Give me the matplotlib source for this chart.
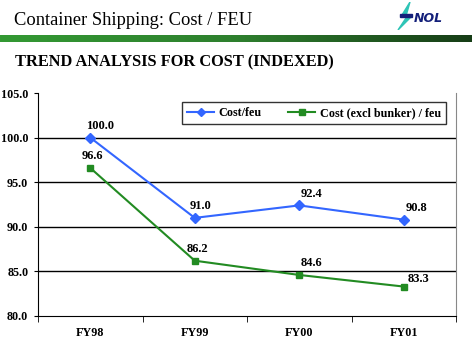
import numpy as np
import matplotlib.pyplot as plt
from matplotlib.patches import Polygon, Rectangle

years = ['FY98', 'FY99', 'FY00', 'FY01']
cost_feu = [100.0, 91.0, 92.4, 90.8]
cost_excl_bunker = [96.6, 86.2, 84.6, 83.3]

plt.rcParams['font.family'] = 'Liberation Serif'

fig = plt.figure(figsize=(4.72, 3.45), dpi=100)

# header
fig.text(0.03, 0.942, 'Container Shipping: Cost / FEU', fontsize=13.3, va='center', ha='left')
fig.text(0.032, 0.82, 'TREND ANALYSIS FOR COST (INDEXED)', fontsize=11.8, fontweight='bold',
         va='center', ha='left')

# green band under the title
band = fig.add_axes([0, 1 - 42.5 / 345, 1, 7.5 / 345])
grad = np.linspace(0, 1, 256)
cols = np.array([[0.20, 0.60, 0.20], [0.18, 0.50, 0.18], [0.09, 0.24, 0.09]])
rgb = np.array([np.interp(grad, [0, 0.5, 1], cols[:, i]) for i in range(3)]).T
band.imshow(rgb[np.newaxis, :, :], aspect='auto')
band.axis('off')

# small logo
logo = fig.add_axes([390 / 472, 1 - 30 / 345, 80 / 472, 28 / 345])
logo.set_xlim(0, 80)
logo.set_ylim(0, 28)
logo.axis('off')
logo.add_patch(Polygon([[20, 28], [12, 15], [18, 15], [8, 0], [22, 14], [16, 14]],
                       closed=True, color='#2ec4b6'))
logo.add_patch(Rectangle((10, 13), 12, 3, color='#14207a'))
logo.text(24, 12, 'NOL', fontsize=9, fontweight='bold', fontstyle='italic',
          color='#14207a', va='center', family='DejaVu Sans')

ax = fig.add_axes([38 / 472, 1 - 316 / 345, (456 - 38) / 472, (316 - 93) / 345])
x = np.arange(len(years))
ax.plot(x, cost_feu, color='#3366ff', marker='D', markersize=5, lw=1.5, label='Cost/feu')
ax.plot(x, cost_excl_bunker, color='#228b22', marker='s', markersize=5, lw=1.5,
        label='Cost (excl bunker) / feu')

# label offsets in points (left edge of text relative to the marker)
blue_off = [(-3, 4), (-4, 4), (1, 4), (1, 4)]
green_off = [(-6, 4), (-6, 4), (1, 4), (3, 1)]
for xi, v, off in zip(x, cost_feu, blue_off):
    ax.annotate(f'{v:.1f}', (xi, v), xytext=off, textcoords='offset points',
                ha='left', va='bottom', fontsize=9, fontweight='bold')
for xi, v, off in zip(x, cost_excl_bunker, green_off):
    ax.annotate(f'{v:.1f}', (xi, v), xytext=off, textcoords='offset points',
                ha='left', va='bottom', fontsize=9, fontweight='bold')

ax.set_xlim(-0.5, len(years) - 0.5)
ax.set_ylim(80, 105)
ax.set_yticks(np.arange(80, 106, 5))
ax.set_yticklabels([f'{t:.1f}' for t in np.arange(80, 106, 5)], fontsize=8.7, fontweight='bold')
ax.set_xticks(x)
ax.set_xticklabels(years, fontsize=8.7, fontweight='bold')
ax.tick_params(axis='x', length=0, pad=8)
ax.set_xticks(np.arange(-0.5, len(years), 1), minor=True)
ax.tick_params(axis='x', which='minor', length=4, direction='out')
ax.tick_params(axis='y', length=3, direction='out', pad=4)
for v in [85, 90, 95, 100]:
    ax.axhline(v, color='black', lw=1, zorder=0)
ax.spines['top'].set_visible(False)
ax.spines['right'].set_color('#888888')

leg = ax.legend(loc='upper right', ncol=2, frameon=True, fancybox=False, edgecolor='black',
                prop={'weight': 'bold', 'size': 8.7}, handlelength=2.2, markerscale=0.8,
                columnspacing=2.2, borderpad=0.4, handletextpad=0.4,
                bbox_to_anchor=(0.99, 0.985))
leg.get_frame().set_linewidth(1)

fig.savefig('out.png', dpi=100)
